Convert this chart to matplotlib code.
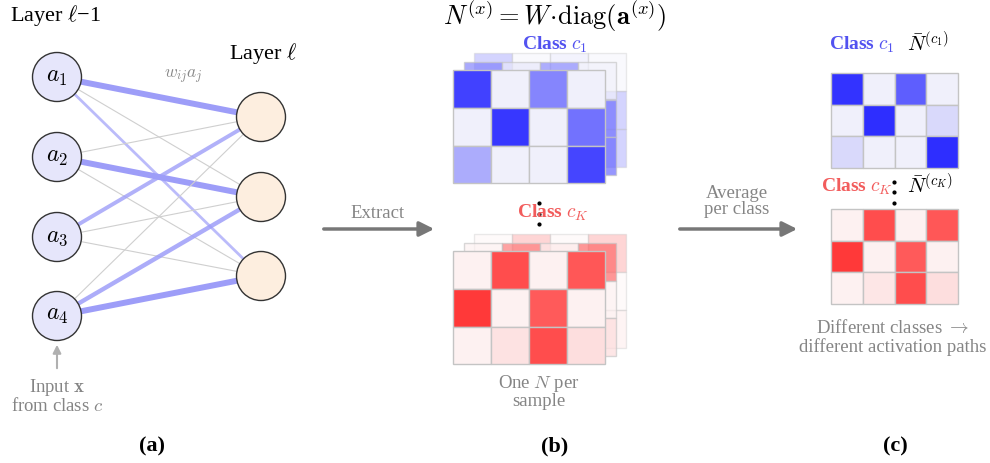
import matplotlib.pyplot as plt
import numpy as np
from matplotlib.patches import Circle, Rectangle
from matplotlib.colors import LinearSegmentedColormap

plt.rcParams['font.family'] = ['Liberation Serif', 'DejaVu Serif']
plt.rcParams['mathtext.fontset'] = 'cm'

# Connection strength w_ij * a_j between layer l-1 (rows) and layer l (cols)
edge_strength = np.array([
    [1.00, 0.00, 0.30],
    [0.00, 1.00, 0.00],
    [0.55, 0.00, 0.00],
    [0.00, 0.65, 1.00],
])
input_labels = [r'$a_1$', r'$a_2$', r'$a_3$', r'$a_4$']

# Per-sample activation matrices N^(x) (front, middle, back of each stack)
c1_front = [[0.90, 0.00, 0.55, 0.00],
            [0.00, 0.95, 0.00, 0.65],
            [0.35, 0.00, 0.00, 0.88]]
c1_mid = [[0.60, 0.05, 0.55, 0.00],
          [0.00, 0.70, 0.00, 0.70],
          [0.30, 0.00, 0.10, 0.75]]
c1_back = [[0.55, 0.00, 0.10, 0.00],
           [0.00, 0.60, 0.00, 0.55],
           [0.10, 0.00, 0.00, 0.55]]
cK_front = [[0.00, 0.85, 0.00, 0.80],
            [0.95, 0.00, 0.78, 0.00],
            [0.00, 0.08, 0.85, 0.10]]
cK_mid = [[0.00, 0.65, 0.05, 0.75],
          [0.70, 0.00, 0.60, 0.00],
          [0.00, 0.08, 0.60, 0.12]]
cK_back = [[0.00, 0.55, 0.00, 0.55],
           [0.60, 0.00, 0.50, 0.00],
           [0.00, 0.08, 0.50, 0.08]]

# Class-averaged matrices N-bar^(c)
c1_avg = [[0.97, 0.00, 0.75, 0.00],
          [0.00, 1.00, 0.00, 0.12],
          [0.12, 0.00, 0.00, 1.00]]
cK_avg = [[0.00, 0.85, 0.00, 0.80],
          [0.95, 0.00, 0.78, 0.00],
          [0.00, 0.06, 0.85, 0.10]]

BLUE_TXT = '#5252f0'
RED_TXT = '#f25c5c'
GRAY_TXT = '#858585'

blue_cmap = LinearSegmentedColormap.from_list('b', ['#f0f0fb', '#2e2eff'])
red_cmap = LinearSegmentedColormap.from_list('r', ['#fdf1f1', '#ff3030'])

fig = plt.figure(figsize=(9.9, 4.63), dpi=100)
ax = fig.add_axes([0, 0, 1, 1])
ax.set_xlim(0, 990)
ax.set_ylim(463, 0)
ax.axis('off')


def draw_grid(x0, y0, cw, ch, values, cmap, alpha=1.0, z=2):
    for r, row in enumerate(values):
        for c, v in enumerate(row):
            ax.add_patch(Rectangle((x0 + c * cw, y0 + r * ch), cw, ch,
                                   facecolor=cmap(v), edgecolor='#c4c4c4',
                                   lw=1.0, alpha=alpha, zorder=z))


def draw_stack(x0, y0, layers, cmap):
    # back to front, each layer shifted up-right
    dx, dy = 10.5, -8.3
    alphas = [0.35, 0.65, 1.0]
    n = len(layers)
    for i, vals in enumerate(layers):
        k = n - 1 - i
        draw_grid(x0 + k * dx, y0 + k * dy, 38, 37.8, vals, cmap,
                  alpha=alphas[i], z=2 + i)


def vdots(x, y):
    ax.scatter([x, x, x], [y - 10.5, y, y + 10.5], s=4, color='black', zorder=5)


# ---------------- (a) network ----------------
left_x, right_x, r = 57, 261, 24.5
left_y = [77, 157, 237, 316]
right_y = [117, 197, 276]

for i, ly in enumerate(left_y):
    for j, ry in enumerate(right_y):
        s = edge_strength[i, j]
        if s > 0:
            ax.plot([left_x, right_x], [ly, ry], color='#9d9df8',
                    lw=1.0 + 3.3 * s, alpha=0.55 + 0.45 * s,
                    solid_capstyle='butt', zorder=1)
        else:
            ax.plot([left_x, right_x], [ly, ry], color='#cfcfcf', lw=0.8, zorder=1)

for ly, lab in zip(left_y, input_labels):
    ax.add_patch(Circle((left_x, ly), r, facecolor='#e6e6fb', edgecolor='#333333',
                        lw=1.0, zorder=3))
    ax.text(left_x, ly, lab, ha='center', va='center', fontsize=17, zorder=4)
for ry in right_y:
    ax.add_patch(Circle((right_x, ry), r, facecolor='#fdeedf', edgecolor='#333333',
                        lw=1.0, zorder=3))

ax.text(10, 16, r'Layer $\ell$−1', ha='left', va='center', fontsize=16)
ax.text(229, 53, r'Layer $\ell$', ha='left', va='center', fontsize=16)
ax.text(183, 77, r'$w_{ij}a_j$', ha='center', va='center', fontsize=12.5,
        color='#8a8a8a')

ax.annotate('', xy=(57, 342), xytext=(57, 371),
            arrowprops=dict(arrowstyle='-|>', color='#b0b0b0', lw=1.5,
                            mutation_scale=12))
ax.text(57, 388, r'Input $\mathbf{x}$', ha='center', va='center', fontsize=13.5,
        color=GRAY_TXT)
ax.text(57, 406, r'from class $c$', ha='center', va='center', fontsize=13.5,
        color=GRAY_TXT)
ax.text(152, 446, '(a)', ha='center', va='center', fontsize=16, fontweight='bold')

# ---------------- (b) per-sample matrices ----------------
ax.text(555, 16, r'$N^{(x)} = W\!\cdot\!\mathrm{diag}(\mathbf{a}^{(x)})$',
        ha='center', va='center', fontsize=19)

ax.annotate('', xy=(437, 229), xytext=(321, 229),
            arrowprops=dict(arrowstyle='-|>', color='#777777', lw=2.5,
                            mutation_scale=22))
ax.text(378, 213, 'Extract', ha='center', va='center', fontsize=13.5, color=GRAY_TXT)

draw_stack(453, 70, [c1_back, c1_mid, c1_front], blue_cmap)
ax.text(555, 45, r'Class $c_1$', ha='center', va='center', fontsize=14,
        fontweight='bold', color=BLUE_TXT, zorder=6)

vdots(539, 213.5)
ax.text(553, 213, r'Class $c_K$', ha='center', va='center', fontsize=14,
        fontweight='bold', color=RED_TXT, zorder=6)
draw_stack(453, 251, [cK_back, cK_mid, cK_front], red_cmap)

ax.text(539, 383, r'One $N$ per', ha='center', va='center', fontsize=13.5,
        color=GRAY_TXT)
ax.text(539, 401, 'sample', ha='center', va='center', fontsize=13.5, color=GRAY_TXT)
ax.text(555, 446, '(b)', ha='center', va='center', fontsize=16, fontweight='bold')

# ---------------- (c) class averages ----------------
ax.annotate('', xy=(800, 229), xytext=(677, 229),
            arrowprops=dict(arrowstyle='-|>', color='#777777', lw=2.5,
                            mutation_scale=22))
ax.text(737, 193, 'Average', ha='center', va='center', fontsize=13.5, color=GRAY_TXT)
ax.text(737, 210, 'per class', ha='center', va='center', fontsize=13.5, color=GRAY_TXT)

ax.text(862, 45, r'Class $c_1$', ha='center', va='center', fontsize=14,
        fontweight='bold', color=BLUE_TXT)
ax.text(907, 44, r'$\bar{N}^{(c_1)}$', ha='left', va='center', fontsize=15)
draw_grid(831, 73, 31.8, 31.7, c1_avg, blue_cmap)

vdots(894, 192)
ax.text(857, 187, r'Class $c_K$', ha='center', va='center', fontsize=14,
        fontweight='bold', color=RED_TXT, zorder=6)
ax.text(907, 186, r'$\bar{N}^{(c_K)}$', ha='left', va='center', fontsize=15)
draw_grid(831, 209, 31.8, 31.7, cK_avg, red_cmap)

ax.text(893, 328, r'Different classes $\rightarrow$', ha='center', va='center',
        fontsize=13.5, color=GRAY_TXT)
ax.text(893, 347, 'different activation paths', ha='center', va='center',
        fontsize=13.5, color=GRAY_TXT)
ax.text(895, 446, '(c)', ha='center', va='center', fontsize=16, fontweight='bold')

fig.savefig('out.png', dpi=100)
